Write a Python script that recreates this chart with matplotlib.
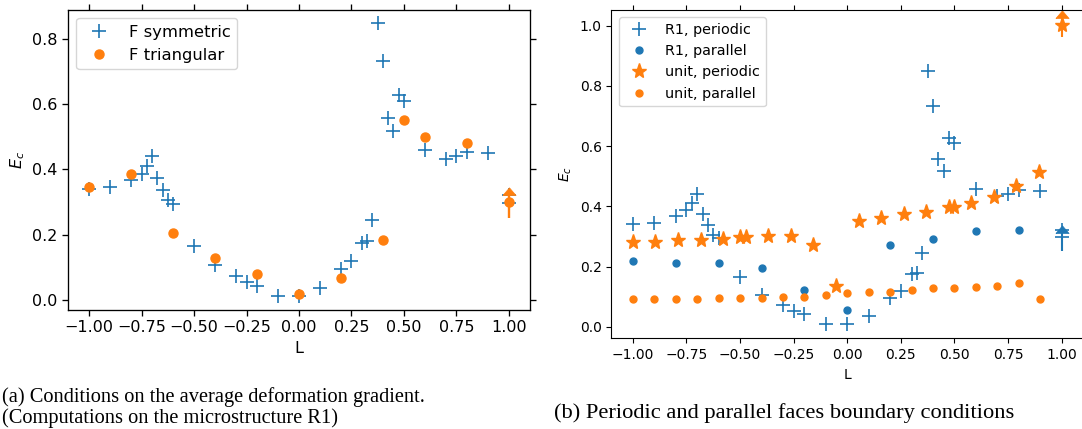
import matplotlib

matplotlib.use("Agg")
import matplotlib.pyplot as plt


# F symmetric / R1 periodic (same computations appear in both panels)
sym_L = [-1.0, -0.9, -0.8, -0.75, -0.725, -0.7, -0.675, -0.65, -0.625, -0.6,
         -0.5, -0.4, -0.3, -0.25, -0.2, -0.1, 0.0, 0.1, 0.2, 0.25, 0.3, 0.325,
         0.35, 0.375, 0.4, 0.425, 0.45, 0.475, 0.5, 0.6, 0.7, 0.75, 0.8, 0.9,
         1.0, 1.0]
sym_E = [0.341, 0.346, 0.367, 0.387, 0.411, 0.442, 0.375, 0.337, 0.306, 0.295,
         0.166, 0.107, 0.071, 0.053, 0.041, 0.010, 0.010, 0.036, 0.094, 0.120,
         0.174, 0.180, 0.245, 0.849, 0.734, 0.557, 0.518, 0.628, 0.611, 0.459,
         0.433, 0.442, 0.454, 0.452, 0.320, 0.297]

# F triangular
tri_L = [-1.0, -0.8, -0.6, -0.4, -0.2, 0.0, 0.2, 0.4, 0.5, 0.6, 0.8, 1.0]
tri_E = [0.346, 0.386, 0.204, 0.127, 0.079, 0.017, 0.066, 0.182, 0.551, 0.501,
         0.482, 0.300]
tri_limit_L = [1.0]
tri_limit_low = [0.251]
tri_limit_high = [0.321]

# R1, parallel faces
par_L = [-1.0, -0.8, -0.6, -0.4, -0.2, 0.0, 0.2, 0.4, 0.6, 0.8]
par_E = [0.218, 0.210, 0.210, 0.196, 0.122, 0.055, 0.271, 0.291, 0.318, 0.322]
r1_limit_L = [1.0]
r1_limit_low = [0.2525]
r1_limit_high = [0.312]

# unit cell, periodic
unit_per_L = [-1.0, -0.895, -0.789, -0.684, -0.579, -0.5, -0.474, -0.368,
              -0.263, -0.158, -0.053, 0.053, 0.158, 0.263, 0.368, 0.474, 0.5,
              0.579, 0.684, 0.789, 0.895, 1.0]
unit_per_E = [0.282, 0.282, 0.288, 0.288, 0.293, 0.297, 0.297, 0.301, 0.301,
              0.271, 0.136, 0.352, 0.362, 0.373, 0.382, 0.396, 0.399, 0.412,
              0.430, 0.467, 0.515, 1.002]
unit_limit_L = [1.0]
unit_limit_low = [0.961]
unit_limit_high = [1.025]

# unit cell, parallel faces
unit_par_L = [-1.0, -0.9, -0.8, -0.7, -0.6, -0.5, -0.4, -0.3, -0.2, -0.1, 0.0,
              0.1, 0.2, 0.3, 0.4, 0.5, 0.6, 0.7, 0.8, 0.9]
unit_par_E = [0.092, 0.092, 0.092, 0.092, 0.094, 0.094, 0.094, 0.100, 0.100,
              0.107, 0.111, 0.116, 0.116, 0.122, 0.127, 0.127, 0.133, 0.136,
              0.146, 0.091]

x_ticks = [-1.0, -0.75, -0.5, -0.25, 0.0, 0.25, 0.5, 0.75, 1.0]
left_y_ticks = [0.0, 0.2, 0.4, 0.6, 0.8]
right_y_ticks = [0.0, 0.2, 0.4, 0.6, 0.8, 1.0]

caption_a = ["(a) Conditions on the average deformation gradient.",
             "(Computations on the microstructure R1)"]
caption_b = "(b) Periodic and parallel faces boundary conditions"

BLUE = "#1f77b4"
ORANGE = "#ff7f0e"
# flat arrow head, base on the limit value
ARROW_HEAD = [(-1.0, 0.0), (0.0, 1.16), (1.0, 0.0), (-1.0, 0.0)]


def limit_bar(axis, xs, low, high, color, width):
    err = [h - l for l, h in zip(low, high)]
    _, caps, _ = axis.errorbar(xs, low, yerr=err, lolims=True, fmt="none",
                               ecolor=color, elinewidth=width)
    for cap in caps:
        cap.set_marker(ARROW_HEAD)
        cap.set_markersize(11)
        cap.set_markerfacecolor(color)
        cap.set_markeredgecolor(color)
        cap.set_markeredgewidth(0.5)


def style_axis(axis, y_ticks, ylim, fontsize, spine_width):
    axis.set_xlim(-1.1, 1.1)
    axis.set_ylim(*ylim)
    axis.set_xticks(x_ticks)
    axis.set_yticks(y_ticks)
    axis.tick_params(top=True, right=True, direction="out",
                     labelsize=fontsize, width=spine_width,
                     length=3.5 * fontsize / 10)
    for spine in axis.spines.values():
        spine.set_linewidth(spine_width)
    axis.set_xlabel("L", fontsize=fontsize)
    axis.set_ylabel("$E_c$", fontsize=fontsize)


def draw_left(figure):
    axis = figure.add_axes([0.0631, 0.2774, 0.4265, 0.6993])
    axis.plot(sym_L, sym_E, "+", color=BLUE, ms=10, mew=1.2,
              label="F symmetric")
    axis.plot(tri_L, tri_E, "o", color=ORANGE, ms=6.5, label="F triangular")
    limit_bar(axis, tri_limit_L, tri_limit_low, tri_limit_high, ORANGE, 1.7)
    style_axis(axis, left_y_ticks, (-0.032, 0.890), 11.5, 0.95)
    axis.legend(loc="upper left", fontsize=11.8)


def draw_right(figure):
    axis = figure.add_axes([0.5651, 0.2114, 0.4359, 0.7653])
    axis.plot(sym_L, sym_E, "+", color=BLUE, ms=10, mew=1.2,
              label="R1, periodic")
    axis.plot(par_L, par_E, "o", color=BLUE, ms=5, label="R1, parallel")
    axis.plot(unit_per_L, unit_per_E, "*", color=ORANGE, ms=11,
              label="unit, periodic")
    axis.plot(unit_par_L, unit_par_E, "o", color=ORANGE, ms=5,
              label="unit, parallel")
    limit_bar(axis, r1_limit_L, r1_limit_low, r1_limit_high, BLUE, 1.5)
    limit_bar(axis, unit_limit_L, unit_limit_low, unit_limit_high, ORANGE, 1.5)
    style_axis(axis, right_y_ticks, (-0.0385, 1.052), 10, 0.8)
    axis.legend(loc="upper left", fontsize=10.4)


def main() -> None:
    figure = plt.figure(figsize=(10.82, 4.29), dpi=100)
    draw_left(figure)
    draw_right(figure)

    serif = ["Liberation Serif", "DejaVu Serif"]
    figure.text(0.002, 1 - 397 / 429, caption_a[0], family=serif,
                fontsize=14.7, va="center", ha="left")
    figure.text(0.002, 1 - 418 / 429, caption_a[1], family=serif,
                fontsize=14.7, va="center", ha="left")
    figure.text(784.5 / 1082, 1 - 413 / 429, caption_b, family=serif,
                fontsize=16.2, va="center", ha="center")

    figure.savefig("out.png", dpi=100)
    plt.close(figure)


if __name__ == "__main__":
    main()
